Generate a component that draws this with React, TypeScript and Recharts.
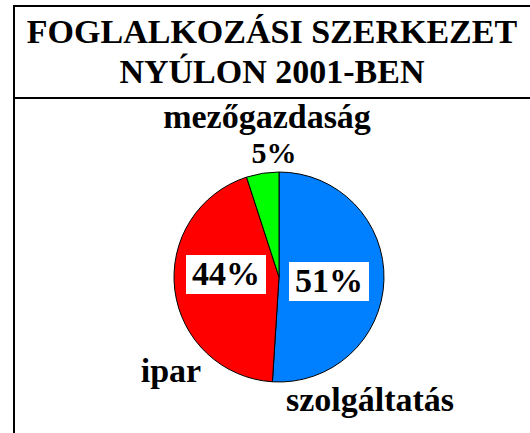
import { PieChart, Pie, Cell } from "recharts";

const titleLines = ["FOGLALKOZÁSI SZERKEZET", "NYÚLON 2001-BEN"];
const categories = ["szolgáltatás", "ipar", "mezőgazdaság"];
const shares = [51, 44, 5];
const colors = ["#0080ff", "#ff0000", "#00ff00"];

const FONT = '"Liberation Serif", "Times New Roman", serif';

// text baselines relative to the pie centre
const labelPlace: Record<string, { name: [number, number]; pct: [number, number]; boxed: boolean }> = {
  "szolgáltatás": { name: [91, 134], pct: [50, 15], boxed: true },
  ipar: { name: [-108, 105], pct: [-53, 8], boxed: true },
  "mezőgazdaság": { name: [-12, -149], pct: [-5, -114], boxed: false },
};

const data = categories.map((name, i) => ({ name, value: shares[i] }));

function renderLabel(props: any) {
  const { cx, cy, name, value } = props;
  const p = labelPlace[name];
  const pctText = `${value}%`;
  const textProps = {
    textAnchor: "middle" as const,
    fontFamily: FONT,
    fontWeight: "bold",
    fill: "#000",
  };
  if (!p.boxed) {
    return (
      <g>
        <text x={cx + p.name[0]} y={cy + p.name[1]} fontSize={34} {...textProps}>
          {name}
        </text>
        <text x={cx + p.pct[0]} y={cy + p.pct[1]} fontSize={30} {...textProps}>
          {pctText}
        </text>
      </g>
    );
  }
  return (
    <g>
      <rect x={cx + p.pct[0] - 40} y={cy + p.pct[1] - 30} width={80} height={39} fill="#ffffff" />
      <text x={cx + p.pct[0]} y={cy + p.pct[1]} fontSize={34} {...textProps}>
        {pctText}
      </text>
      <text x={cx + p.name[0]} y={cy + p.name[1]} fontSize={34} {...textProps}>
        {name}
      </text>
    </g>
  );
}

export default function App() {
  return (
    <div
      style={{
        position: "absolute",
        left: 0,
        top: 0,
        width: 530,
        height: 433,
        background: "#fff",
        overflow: "hidden",
      }}
    >
      <PieChart width={530} height={433} margin={{ top: 0, right: 0, bottom: 0, left: 0 }}>
        <Pie
          data={data}
          dataKey="value"
          nameKey="name"
          cx={279}
          cy={277}
          outerRadius={105}
          startAngle={90}
          endAngle={-270}
          stroke="#000"
          strokeWidth={1}
          label={renderLabel}
          labelLine={false}
          isAnimationActive={false}
        >
          {data.map((d, i) => (
            <Cell key={d.name} fill={colors[i]} />
          ))}
        </Pie>
      </PieChart>
      {/* title box */}
      <svg width={530} height={433} style={{ position: "absolute", left: 0, top: 0, pointerEvents: "none" }}>
        <line x1={13} y1={6} x2={530} y2={6} stroke="#000" strokeWidth={2} />
        <line x1={13} y1={98} x2={530} y2={98} stroke="#000" strokeWidth={2} />
        <line x1={14} y1={5} x2={14} y2={433} stroke="#000" strokeWidth={2} />
        {titleLines.map((t, i) => (
          <text
            key={t}
            x={272}
            y={43 + i * 40}
            textAnchor="middle"
            fontFamily={FONT}
            fontWeight="bold"
            fontSize={34}
            fill="#000"
          >
            {t}
          </text>
        ))}
      </svg>
    </div>
  );
}
